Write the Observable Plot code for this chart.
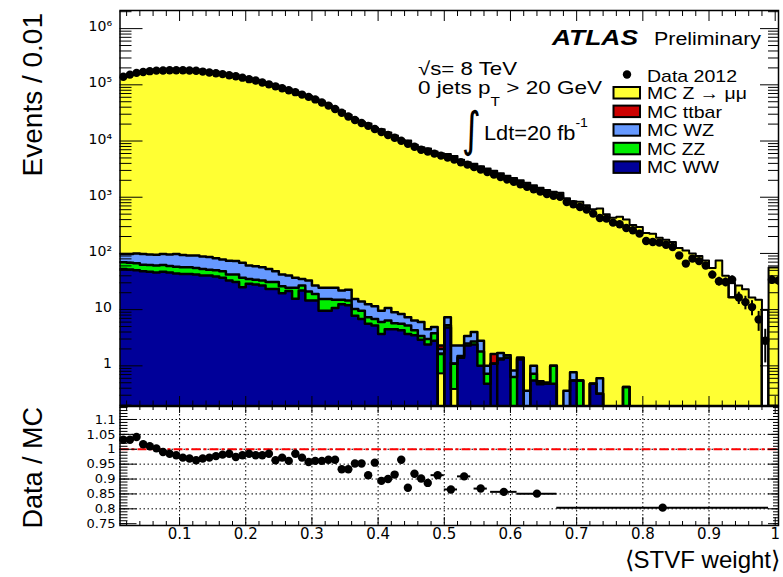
<!DOCTYPE html>
<html>
<head>
<meta charset="utf-8">
<script src="https://cdn.jsdelivr.net/npm/d3@7"></script>
<script src="https://cdn.jsdelivr.net/npm/@observablehq/plot@0.6"></script>
<style>
  html,body{margin:0;padding:0;background:#fff;}
  #chart{position:relative;width:783px;height:577px;overflow:hidden;background:#fff;}
  #chart > svg{position:absolute;left:0;}
  #overlay{top:0;pointer-events:none}
</style>
</head>
<body>
<div id="chart"></div>
<script>
// ---------------- data ----------------
const binWidth = 0.01;
const binLow = d3.range(1, 101).map(i => i / 100);   // bin lower edges 0.01 ... 1.00

const dataCounts = [139000,152000,163000,169000,175000,179000,180000,182000,182000,182000,
  180000,178000,172000,166000,161000,155000,148000,142000,134000,126000,
  119000,110000,102000,94000,87000,80000,74000,67000,61000,55000,
  48400,42700,37100,31800,27300,23600,20900,18600,16400,14500,
  12800,11400,10100,8900,7900,7000,6500,5970,5500,5100,
  4670,4200,3800,3430,3100,2800,2540,2290,2070,1880,
  1700,1540,1390,1260,1140,1060,1016,822,748,670,
  602,511,427,416,353,330,283,258,225,166,
  160,156,143,130,92,66,81,73,61,42,
  32,31,34,16.4,13.6,11.1,6.7,2.8,34,33];

// MC stack total (top of Z -> mumu)
const mcTotal = [134700,147300,156600,166200,173300,178500,181600,184800,185700,187200,
  185800,184800,177500,170800,164800,157800,150300,145800,136700,127900,
  121400,112200,103600,97600,89500,83200,75100,68900,63700,57200,
  50400,44200,38400,34100,29300,24800,22000,20400,17200,16200,
  14200,12500,10500,10200,8600,7760,7330,6540,6020,5900,
  5400,4620,4180,3950,3570,3230,2960,2670,2420,2190,
  2000,1810,1630,1480,1340,1250,1200,960,850,830,
  720,610,627,500,430,450,400,320,295,230,
  225,190,175,160,125,113,100,90,75,55,
  75,40,16.4,27,23,16.4,15,0,56,56];

// cumulative stack tops of the small backgrounds
const wwTop = [53,52,50,48,47,46,47,46,44,43,
  43,42,40.5,40.5,39,37,33,31,25,29,
  28,27,23.4,23.4,19.5,21.5,15.6,22,14.5,14.5,
  9.6,9.6,10.7,12.5,12,7.8,6.8,5.6,5.2,3.7,
  4.5,4.5,4.3,3.7,3.5,2.9,2.4,2.8,0,4.8,
  0,1.4,2.3,2.4,1.0,0.48,1.09,1.3,1.4,0,
  1.3,0,0.55,0.47,0.48,0.48,0,0,0.55,0,
  0,0.48,0.32,0,0,0,0,0,0,0,
  0,0,0,0,0,0,0,0,0,0,
  0,0,0,0,0,0,0,0,0,0];
const zzTop = [70,68,67,63,62,61,62,60,58,57,
  57,55,53,51,50,48,42,42,37,35,
  34,33,31,31,26,24.5,24.5,27,21,19,
  15.5,15.5,15,15,14.5,10.3,9.6,7.3,6.8,6,
  6.4,5.7,5.6,5.2,4.3,3.4,3.0,3.8,1.63,5.3,
  1.09,1.5,2.5,2.7,1.8,0.72,1.09,1.35,1.55,0.63,
  1.4,0,0.72,0.5,0.5,1.0,0,0,0.55,0.55,
  0,0.48,0.32,0,0,0,0.42,0,0,0,
  0,0,0,0,0,0,0,0,0,0,
  0,0,0,0,0,0,0,0,0,0];
const wzTop = [98,98,100,98,96,95,98,96,98,94,
  92,92,88,86,82,78,74,73,68,61,
  59,57,53,48,42,40.5,37,35,33,27,
  24.5,24.5,24.5,22,22.5,15.5,14,12.5,11.5,9.6,
  10.7,9,8.4,7.3,6.4,6.0,4.5,4.9,2.0,7.3,
  2.3,2.3,3.4,4.0,2.8,1.0,1.09,1.7,1.55,0.83,
  1.4,0.36,1.0,0.53,0.5,1.0,0,0.36,0.77,0.55,
  0,0.48,0.6,0,0,0,0.42,0,0,0,
  0,0,0,0,0,0,0,0,0,0,
  0,0,0,0,0,0,0,0,0,0];
const ttBin = [0.49, 0.57];
const ttTop = [2.3, 1.63];
const zzFloatBin = [0.49, 0.51];        // ZZ bars drawn floating (ROOT log-scale artefact)
const zzFloatBottom = [0.72, 0.38];
const outlineBin = [0.93, 0.98];        // empty outlined boxes above the yellow fill
const outlineTop = [29, 9.7];

// ratio panel
const ratioLow = [0.01,0.02,0.03,0.04,0.05,0.06,0.07,0.08,0.09,0.10,0.11,0.12,0.13,0.14,0.15,0.16,0.17,0.18,0.19,0.20,
  0.21,0.22,0.23,0.24,0.25,0.26,0.27,0.28,0.29,0.30,0.31,0.32,0.33,0.34,0.35,0.36,0.37,0.38,0.39,0.40,
  0.41,0.42,0.43,0.44,0.45,0.46,0.47,0.48,0.50,0.52,0.545,0.57,0.61,0.67];
const ratioHigh = [0.02,0.03,0.04,0.05,0.06,0.07,0.08,0.09,0.10,0.11,0.12,0.13,0.14,0.15,0.16,0.17,0.18,0.19,0.20,0.21,
  0.22,0.23,0.24,0.25,0.26,0.27,0.28,0.29,0.30,0.31,0.32,0.33,0.34,0.35,0.36,0.37,0.38,0.39,0.40,0.41,
  0.42,0.43,0.44,0.45,0.46,0.47,0.48,0.50,0.52,0.54,0.565,0.61,0.67,0.99];
const ratioValue = [1.032,1.032,1.041,1.017,1.010,1.003,0.991,0.985,0.980,0.972,
  0.969,0.963,0.969,0.972,0.977,0.982,0.985,0.974,0.980,0.985,
  0.980,0.980,0.985,0.963,0.972,0.961,0.985,0.972,0.957,0.961,
  0.961,0.965,0.965,0.933,0.933,0.952,0.952,0.913,0.955,0.894,
  0.900,0.915,0.965,0.871,0.918,0.902,0.887,
  0.913,0.865,0.909,0.868,0.857,0.851,0.804];

// ticks / labels
const xMajorTicks = [0.1,0.2,0.3,0.4,0.5,0.6,0.7,0.8,0.9,1.0];
const xMinorTicks = d3.range(1, 51).map(i => i * 0.02).filter(v => Math.abs(v * 10 - Math.round(v * 10)) > 1e-6);
const yMainMajor = [1, 10, 100, 1e3, 1e4, 1e5, 1e6];
const yMainMinor = d3.range(-1, 7).flatMap(e => d3.range(2, 10).map(m => m * Math.pow(10, e))).filter(v => v > 0.197 && v < 2.1e6);
const yRatioMajor = [0.75,0.8,0.85,0.9,0.95,1.0,1.05,1.1];
const yRatioMinor = d3.range(75, 115).map(i => i / 100);
const yRatioGrid = [0.8,0.85,0.9,0.95,1.0,1.05,1.1];
const xRatioGrid = [0.1,0.2,0.3,0.4,0.5,0.6,0.7,0.8,0.9];
const supDigits = {"2":"²","3":"³","4":"⁴","5":"⁵","6":"⁶"};

const legendNames = ["MC Z \u2192 \u03bc\u03bc", "MC ttbar", "MC WZ", "MC ZZ", "MC WW"];
const legendWidths = [100, 75, 67, 58, 72];
const zColor = "#ffff33", ttColor = "#cc0000", wzColor = "#6699ff", zzColor = "#00ee00", wwColor = "#000099";
const legendColors = [zColor, ttColor, wzColor, zzColor, wwColor];

// ---------------- build ----------------
const W = 783, mL = 119.5, mR = 5;
const plotW = W - mL - mR;
const floor = 0.01;
const pos = v => v > 0 ? v : floor;
const xDomain = [0.01, 1.005];

const bins = binLow.map((x0, i) => ({x0, x1: x0 + binWidth, xc: x0 + binWidth / 2,
  n: dataCounts[i], z: mcTotal[i], ww: wwTop[i], zz: zzTop[i], wz: wzTop[i], tt: 0}));
const idxOf = b => Math.round(b * 100) - 1;
ttBin.forEach((b, j) => { bins[idxOf(b)].tt = ttTop[j]; });

const colorOf = {WW: wwColor, ZZ: zzColor, WZ: wzColor, tt: ttColor};
const rects = [];
bins.forEach(b => {
  const fb = zzFloatBin.findIndex(v => Math.abs(v - b.x0) < 1e-9);
  if (b.ww > 0) rects.push({x1: b.x0, x2: b.x1, y1: floor, y2: b.ww, s: "WW"});
  if (b.zz > b.ww) rects.push({x1: b.x0, x2: b.x1, y1: fb >= 0 ? zzFloatBottom[fb] : pos(b.ww), y2: b.zz, s: "ZZ", float: fb >= 0});
  if (b.wz > b.zz) rects.push({x1: b.x0, x2: b.x1, y1: pos(b.zz), y2: b.wz, s: "WZ"});
  if (b.tt > b.wz) rects.push({x1: b.x0, x2: b.x1, y1: pos(b.wz), y2: b.tt, s: "tt"});
});
const stepPts = (key, name) => bins.flatMap(b => [{x: b.x0, y: pos(b[key]), s: name}, {x: b.x1, y: pos(b[key]), s: name}]);
const lowerSteps = [...stepPts("ww", "ww"), ...stepPts("zz", "zz"), ...stepPts("wz", "wz"), ...stepPts("tt", "tt")];
const totalSteps = stepPts("z", "z");
const boxes = outlineBin.map((b, j) => ({x1: b, x2: b + binWidth, y1: pos(mcTotal[idxOf(b)]), y2: outlineTop[j]}));

const tickX = (vals, len, side, plotH) => Plot.tickX(vals, {x: d => d, stroke: "black", strokeWidth: 1,
  ...(side === "bottom" ? {insetTop: plotH - len} : {insetBottom: plotH - len})});
const tickY = (vals, len, side) => Plot.tickY(vals, {y: d => d, stroke: "black", strokeWidth: 1,
  ...(side === "left" ? {insetRight: plotW - len} : {insetLeft: plotW - len})});

const mainH = 410, mainT = 10, mainB = 5, mainPH = mainH - mainT - mainB;
const main = Plot.plot({
  width: W, height: mainH, marginLeft: mL, marginRight: mR, marginTop: mainT, marginBottom: mainB,
  style: {fontFamily: "DejaVu Sans, sans-serif", background: "transparent"},
  x: {domain: xDomain, axis: null, label: null},
  y: {type: "log", domain: [0.197, 2.1e6], axis: null, label: null},
  marks: [
    Plot.rect(bins, {x1: "x0", x2: "x1", y1: floor, y2: d => pos(d.z), fill: zColor, clip: true, shapeRendering: "crispEdges"}),
    Plot.rect(boxes, {x1: "x1", x2: "x2", y1: "y1", y2: "y2", fill: "white", stroke: "black", strokeWidth: 2, clip: true}),
    Plot.rect(rects, {x1: "x1", x2: "x2", y1: "y1", y2: "y2", fill: d => colorOf[d.s], clip: true, shapeRendering: "crispEdges"}),
    Plot.rect(rects.filter(d => d.float), {x1: "x1", x2: "x2", y1: "y1", y2: "y2", fill: "none", stroke: "black", strokeWidth: 2, clip: true}),
    Plot.line(totalSteps, {x: "x", y: "y", stroke: "black", strokeWidth: 2, clip: true}),
    Plot.line(lowerSteps, {x: "x", y: "y", z: "s", stroke: "black", strokeWidth: 2.5, clip: true}),
    Plot.ruleX(bins, {x: "xc", y1: d => Math.max(d.n - Math.sqrt(d.n), floor), y2: d => d.n + Math.sqrt(d.n), stroke: "black", strokeWidth: 2, clip: true}),
    Plot.dot(bins, {x: "xc", y: "n", r: 4.2, fill: "black", stroke: "none", clip: true}),
    tickX(xMajorTicks, 9, "bottom", mainPH), tickX(xMinorTicks, 4.5, "bottom", mainPH),
    tickX(xMajorTicks, 11, "top", mainPH), tickX(xMinorTicks, 6, "top", mainPH),
    tickY(yMainMajor, 23, "left"), tickY(yMainMinor, 12, "left"),
    tickY(yMainMajor, 18, "right"), tickY(yMainMinor, 10, "right"),
    Plot.axisY({ticks: yMainMajor, tickSize: 0, tickPadding: 8, fontSize: 14, dy: -2, label: null,
      tickFormat: d => d === 1 ? "1" : d === 10 ? "10" : "10" + supDigits[String(Math.round(Math.log10(d)))]}),
    Plot.frame({stroke: "black", strokeWidth: 1.5})
  ]
});
main.id = "main";
main.style.top = "0px";

const ratioH = 172, ratioT = 1, ratioB = 52, ratioPH = ratioH - ratioT - ratioB;
const ratioPts = ratioValue.map((v, i) => ({lo: ratioLow[i], hi: ratioHigh[i], c: (ratioLow[i] + ratioHigh[i]) / 2, v}));
const ratio = Plot.plot({
  width: W, height: ratioH, marginLeft: mL, marginRight: mR, marginTop: ratioT, marginBottom: ratioB,
  style: {fontFamily: "DejaVu Sans, sans-serif", background: "transparent"},
  x: {domain: xDomain, axis: null, label: null},
  y: {domain: [0.744, 1.1436], axis: null, label: null},
  marks: [
    Plot.ruleY(yRatioGrid, {stroke: "black", strokeWidth: 1, strokeDasharray: "1.5,2.5"}),
    Plot.ruleX(xRatioGrid, {stroke: "black", strokeWidth: 1, strokeDasharray: "1.5,2.5"}),
    Plot.ruleY([1], {stroke: "#ff0000", strokeWidth: 2, strokeDasharray: "9,3,3,3"}),
    Plot.ruleY(ratioPts, {y: "v", x1: "lo", x2: "hi", stroke: "black", strokeWidth: 2}),
    Plot.dot(ratioPts, {x: "c", y: "v", r: 4.2, fill: "black", stroke: "none"}),
    tickX(xMajorTicks, 8, "bottom", ratioPH), tickX(xMinorTicks, 4, "bottom", ratioPH),
    tickX(xMajorTicks, 7, "top", ratioPH), tickX(xMinorTicks, 4, "top", ratioPH),
    tickY(yRatioMajor, 17, "left"), tickY(yRatioMinor, 8, "left"),
    tickY(yRatioMajor, 10, "right"), tickY(yRatioMinor, 5, "right"),
    Plot.axisY({ticks: yRatioMajor, tickSize: 0, tickPadding: 4.5, fontSize: 13, label: null,
      tickFormat: d => String(+d.toFixed(2))}),
    Plot.axisX({ticks: xMajorTicks, tickSize: 0, tickPadding: 3, fontSize: 15, label: null,
      tickFormat: d => String(+d.toFixed(1))}),
    Plot.frame({stroke: "black", strokeWidth: 1.5})
  ]
});
ratio.id = "ratio";
ratio.style.top = "405px";

const chart = document.getElementById("chart");
chart.appendChild(main);
chart.appendChild(ratio);

// ---------------- text overlay: axis titles, annotations, legend ----------------
const legendRows = legendNames.map((name, i) => {
  const base = 99 + i * 18.6;
  return `<rect x="613.5" y="${base - 12}" width="26.5" height="11.5" fill="${legendColors[i]}" stroke="black" stroke-width="2"/>
  <text x="647" y="${base}" font-size="17" textLength="${legendWidths[i]}" lengthAdjust="spacingAndGlyphs">${name}</text>`;
}).join("");

const overlay = `<svg id="overlay" width="783" height="577" xmlns="http://www.w3.org/2000/svg" font-family="Liberation Sans, Arial, Helvetica, sans-serif" fill="black">
  <text transform="translate(42,13) rotate(-90)" text-anchor="end" font-size="28">Events / 0.01</text>
  <text transform="translate(42,407) rotate(-90)" text-anchor="end" font-size="27">Data / MC</text>
  <text x="780" y="568" text-anchor="end" font-size="24">\u27e8STVF weight\u27e9</text>
  <text x="552" y="45" font-size="22" font-weight="bold" font-style="italic" textLength="86" lengthAdjust="spacingAndGlyphs">ATLAS</text>
  <text x="654" y="45" font-size="18" textLength="107" lengthAdjust="spacingAndGlyphs">Preliminary</text>
  <text x="418" y="74.5" font-size="19" textLength="99" lengthAdjust="spacingAndGlyphs">\u221as= 8 TeV</text>
  <text x="418" y="94" font-size="19" textLength="184" lengthAdjust="spacingAndGlyphs">0 jets p<tspan dy="12" font-size="13">T</tspan><tspan dy="-12"> &gt; 20 GeV</tspan></text>
  <text x="462" y="146" font-size="48" font-family="DejaVu Sans, sans-serif" textLength="19" lengthAdjust="spacingAndGlyphs">\u222b</text>
  <text x="484" y="140" font-size="20" textLength="104" lengthAdjust="spacingAndGlyphs">Ldt=20 fb<tspan dy="-13" font-size="13">-1</tspan></text>
  <circle cx="627" cy="74.5" r="4.2" fill="black"/>
  <text x="647" y="81.5" font-size="17" textLength="90" lengthAdjust="spacingAndGlyphs">Data 2012</text>
  ${legendRows}
</svg>`;
chart.insertAdjacentHTML("beforeend", overlay);
</script>
</body>
</html>
